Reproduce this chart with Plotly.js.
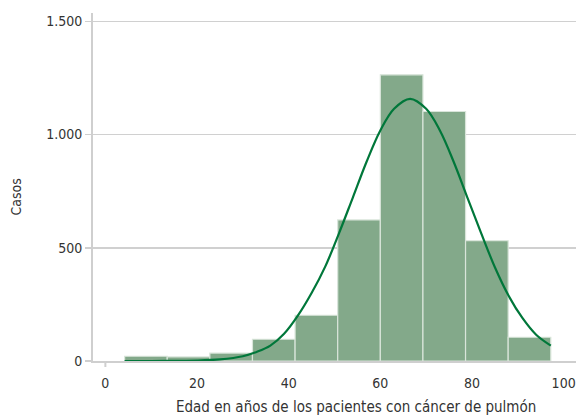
<!DOCTYPE html>
<html>
<head>
<meta charset="utf-8">
<script src="https://cdn.plot.ly/plotly-3.0.1.min.js"></script>
<style>html,body{margin:0;padding:0;background:#fff;overflow:hidden}#chart{width:577px;height:417px}</style>
</head>
<body>
<div id="chart"></div>
<script>
// Histogram bin edges (age, years) and case counts per bin
var binEdges = [4.2, 13.5, 22.8, 32.1, 41.4, 50.7, 60.0, 69.3, 78.6, 87.9, 97.2];
var casos = [21, 18, 35, 96, 202, 623, 1264, 1102, 531, 105];

// Fitted curve, points
var curveAge = [4.2, 10, 15, 20, 25, 30, 33, 36, 39, 42, 45, 48, 51, 54, 57, 60, 63, 66.5, 70, 73, 76, 79, 82, 85, 88, 91, 94, 97.2];
var curveVal = [0, 0, 1, 2, 7, 21, 40, 68, 120, 200, 300, 418, 565, 722, 880, 1018, 1114, 1158, 1114, 1018, 880, 722, 565, 414, 288, 190, 116, 68];

var xTicks = [0, 20, 40, 60, 80, 100];
var yTicks = [0, 500, 1000, 1500];
var xTitle = 'Edad en años de los pacientes con cáncer de pulmón';
var yTitle = 'Casos';

var centers = [], widths = [];
for (var i = 0; i < casos.length; i++) {
  centers.push((binEdges[i] + binEdges[i + 1]) / 2);
  widths.push(binEdges[i + 1] - binEdges[i]);
}

var FONT = '"DejaVu Sans Condensed", "Liberation Sans Narrow", sans-serif';
var W = 577, H = 417, L = 93, R = 1, T = 13, B = 56;
var pw = W - L - R, ph = H - T - B;

var traces = [
  {
    type: 'bar', x: centers, y: casos, width: widths,
    marker: {color: '#83a98a', line: {color: '#d9e5da', width: 1.2}},
    hoverinfo: 'skip', showlegend: false
  },
  {
    type: 'scatter', mode: 'lines', x: curveAge, y: curveVal,
    line: {color: '#00773a', width: 2.2, shape: 'spline', smoothing: 1},
    hoverinfo: 'skip', showlegend: false
  }
];

var layout = {
  width: W, height: H,
  margin: {l: L, r: R, t: T, b: B, pad: 0},
  paper_bgcolor: '#ffffff', plot_bgcolor: '#ffffff',
  separators: ',.',
  font: {family: FONT, size: 14, color: '#333333'},
  bargap: 0,
  xaxis: {
    range: [-2.7, 102.7], tickvals: xTicks, ticktext: xTicks.map(String),
    showgrid: false, zeroline: false,
    showline: true, linecolor: '#cfcfcf', linewidth: 2,
    ticks: 'outside', ticklen: 8, tickcolor: 'rgba(0,0,0,0)',
    tickfont: {family: FONT, size: 14, color: '#333333'}
  },
  yaxis: {
    range: [0, 1537], tickvals: yTicks, tickformat: ',d', separatethousands: true,
    showgrid: true, gridcolor: '#d0d0d0', gridwidth: 1.5, zeroline: false,
    showline: true, linecolor: '#cfcfcf', linewidth: 2,
    ticks: 'outside', ticklen: 6, tickcolor: '#cfcfcf', tickwidth: 1.5,
    tickfont: {family: FONT, size: 14, color: '#333333'}
  },
  shapes: [
    {type: 'line', xref: 'x', yref: 'paper', x0: 0, x1: 0, y0: 0, y1: -6 / ph,
     line: {color: '#cfcfcf', width: 2}}
  ],
  annotations: [
    {text: xTitle, xref: 'paper', yref: 'paper', x: (355.5 - L) / pw, y: (H - B - 407) / ph,
     xanchor: 'center', yanchor: 'middle', showarrow: false,
     font: {family: FONT, size: 15, color: '#333333'}},
    {text: yTitle, xref: 'paper', yref: 'paper', x: (15.5 - L) / pw, y: (H - B - 197) / ph,
     xanchor: 'center', yanchor: 'middle', textangle: -90, showarrow: false,
     font: {family: FONT, size: 14, color: '#333333'}}
  ]
};

Plotly.newPlot('chart', traces, layout, {displayModeBar: false, staticPlot: true});
</script>
</body>
</html>
